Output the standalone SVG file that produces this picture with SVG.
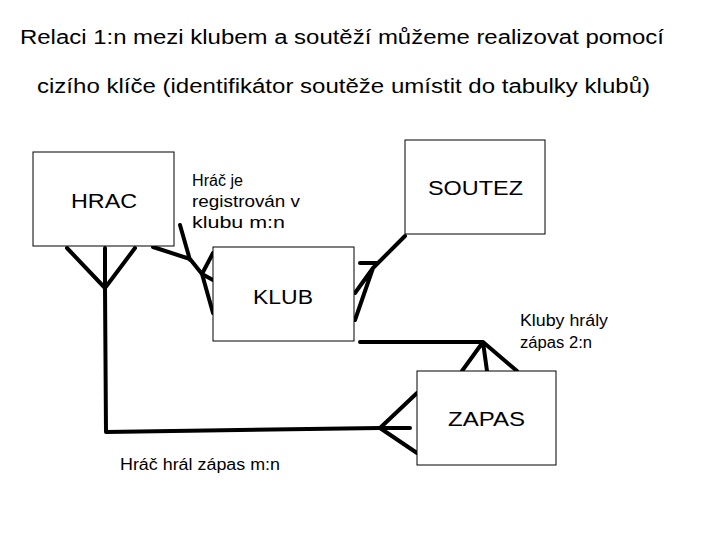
<svg xmlns="http://www.w3.org/2000/svg" width="720" height="540" viewBox="0 0 720 540">
<style>
.box{fill:#fff;stroke:#000;stroke-width:1}
.t{font-family:"Liberation Sans",Arial,sans-serif;fill:#000}
.big{font-size:20px}
.lbl{font-size:16px}
.c{fill:none;stroke:#000;stroke-width:4;stroke-linecap:round;stroke-linejoin:round}
</style>
<rect width="720" height="540" fill="#fff"/>
<text class="t big" x="20" y="44" textLength="644" lengthAdjust="spacingAndGlyphs">Relaci 1:n mezi klubem a soutěží můžeme realizovat pomocí</text>
<text class="t big" x="37" y="93" textLength="613" lengthAdjust="spacingAndGlyphs">cizího klíče (identifikátor soutěže umístit do tabulky klubů)</text>
<g id="connectors">
<path class="c" d="M67 248 L105 288 L135 248 M105 248 L105 288 L106 432 L380 428"/>
<path class="c" d="M380 428 L417 393 M380 428 L410 428 M380 428 L417 453"/>
<path class="c" d="M153 247 L190 259 L202 274 L213 280 M180 225 L190 260 M202 274 L213 253 M202 274 L213 313"/>
<path class="c" d="M405 236 L373 268 L355 293 M373 268 L355 320 M360 263 L377 263"/>
<path class="c" d="M360 342 L483 342 L462 371 M483 342 L487 371 M483 342 L517 371"/>
</g>
<g id="HRAC"><rect class="box" x="33" y="152" width="141" height="94"/><text class="t big" x="71" y="208" textLength="66" lengthAdjust="spacingAndGlyphs">HRAC</text></g>
<g id="KLUB"><rect class="box" x="213" y="247" width="141" height="94"/><text class="t big" x="253" y="304" textLength="60" lengthAdjust="spacingAndGlyphs">KLUB</text></g>
<g id="SOUTEZ"><rect class="box" x="405" y="140" width="140" height="94"/><text class="t big" x="428" y="195" textLength="95" lengthAdjust="spacingAndGlyphs">SOUTEZ</text></g>
<g id="ZAPAS"><rect class="box" x="417" y="371" width="139" height="94"/><text class="t big" x="448" y="426" textLength="77" lengthAdjust="spacingAndGlyphs">ZAPAS</text></g>
<g id="labels">
<text class="t lbl" x="192" y="186" textLength="51" lengthAdjust="spacingAndGlyphs">Hráč je</text>
<text class="t lbl" x="192" y="207" textLength="108" lengthAdjust="spacingAndGlyphs">registrován v</text>
<text class="t lbl" x="192" y="228" textLength="93" lengthAdjust="spacingAndGlyphs">klubu m:n</text>
<text class="t lbl" x="520" y="326" textLength="88" lengthAdjust="spacingAndGlyphs">Kluby hrály</text>
<text class="t lbl" x="520" y="348" textLength="72" lengthAdjust="spacingAndGlyphs">zápas 2:n</text>
<text class="t lbl" x="120" y="470" textLength="160" lengthAdjust="spacingAndGlyphs">Hráč hrál zápas m:n</text>
</g>
</svg>
